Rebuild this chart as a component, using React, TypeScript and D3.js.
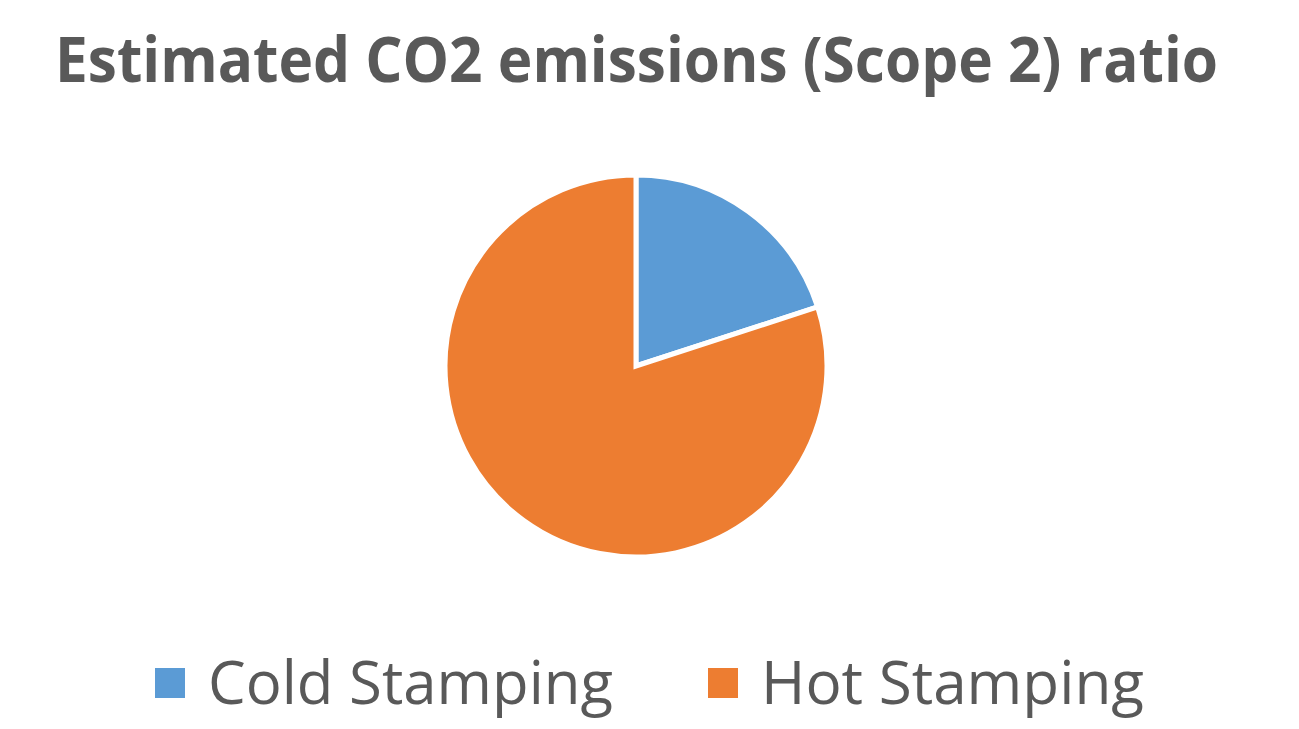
import React from "react";
import * as d3 from "d3";

const title = "Estimated CO2 emissions (Scope 2) ratio";
const categories = ["Cold Stamping", "Hot Stamping"];
const values = [20, 80];
const colors = ["#5B9BD5", "#ED7D31"];

export default function App() {
  const W = 1299;
  const H = 729;
  const cx = 636;
  const cy = 366;
  const r = 191;
  const pie = d3.pie<number>().sort(null).value((d) => d)(values);
  const arc = d3.arc<d3.PieArcDatum<number>>().innerRadius(0).outerRadius(r);
  const legendX = [155, 708];
  const legendTextW = [405, 383];
  return (
    <svg
      width={W}
      height={H}
      style={{ position: "absolute", left: 0, top: 0, background: "#fff" }}
    >
      <text
        x={55}
        y={82}
        fontFamily="'Open Sans', sans-serif"
        fontWeight={700}
        fontSize={62}
        fill="#595959"
        textLength={1163}
        lengthAdjust="spacingAndGlyphs"
      >
        {title}
      </text>
      <g transform={`translate(${cx},${cy})`}>
        {pie.map((p, i) => (
          <path
            key={i}
            d={arc(p) || ""}
            fill={colors[i]}
            stroke="#fff"
            strokeWidth={5}
            strokeLinejoin="miter"
          />
        ))}
      </g>
      {categories.map((c, i) => (
        <g key={c}>
          <rect x={legendX[i]} y={668} width={30} height={30} fill={colors[i]} />
          <text
            x={legendX[i] + 53}
            y={704}
            fontFamily="'Open Sans', sans-serif"
            fontSize={61}
            fill="#595959"
            textLength={legendTextW[i]}
            lengthAdjust="spacingAndGlyphs"
          >
            {c}
          </text>
        </g>
      ))}
    </svg>
  );
}
